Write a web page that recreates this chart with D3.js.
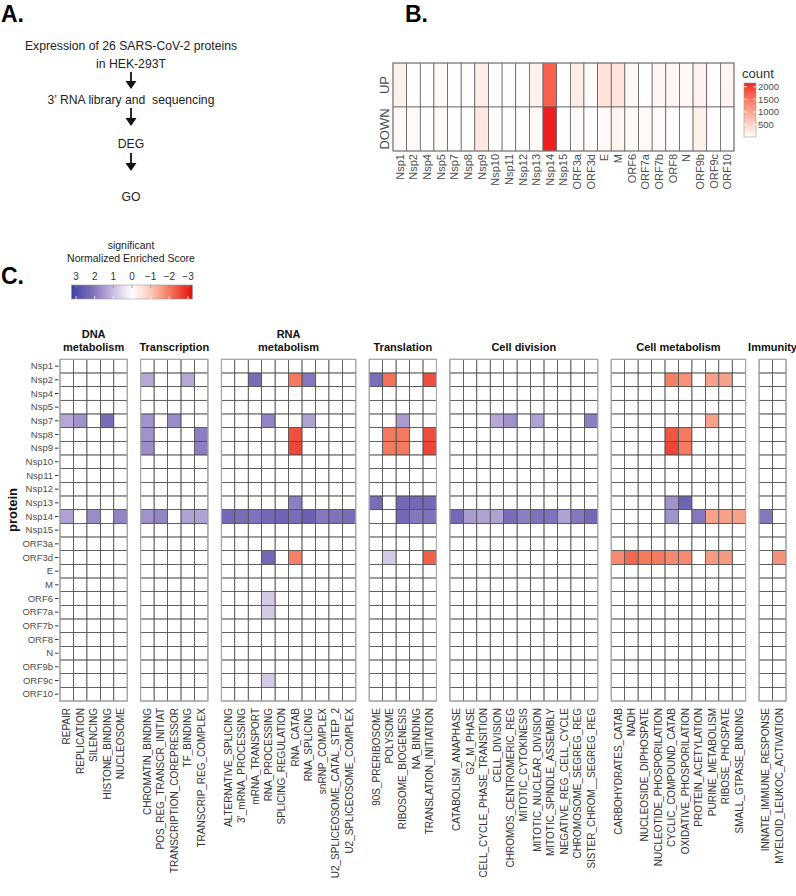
<!DOCTYPE html>
<html><head><meta charset="utf-8">
<script src="https://cdn.jsdelivr.net/npm/d3@7"></script>
<style>body{margin:0;background:#fff}svg{display:block}</style>
</head><body>
<svg id="c" width="796" height="896"></svg>
<script>
// ---------------- DATA ----------------
const flowLines = [["Expression of 26 SARS-CoV-2 proteins","in HEK-293T"],["3’ RNA library and  sequencing"],["DEG"],["GO"]];

const proteins = ["Nsp1","Nsp2","Nsp4","Nsp5","Nsp7","Nsp8","Nsp9","Nsp10","Nsp11","Nsp12","Nsp13","Nsp14","Nsp15","ORF3a","ORF3d","E","M","ORF6","ORF7a","ORF7b","ORF8","N","ORF9b","ORF9c","ORF10"];
const directions = ["UP","DOWN"];
const countUp   = [150,20,10,60,20,30,200,10,10,20,150,1700,10,220,50,330,300,70,20,110,100,80,150,20,120];
const countDown = [60,60,10,50,10,10,260,10,10,10,60,2150,10,60,20,60,130,50,60,70,10,10,170,10,10];
const countTicks = [500,1000,1500,2000];

const groupTitles = [["DNA","metabolism"],["Transcription"],["RNA","metabolism"],["Translation"],["Cell division"],["Cell metabolism"],["Immunity"]];
const termsDNA = ["REPAIR","REPLICATION","SILENCING","HISTONE_BINDING","NUCLEOSOME"];
const termsTranscription = ["CHROMATIN_BINDING","POS_REG_TRANSCR_INITIAT","TRANSCRIPTION_COREPRESSOR","TF_BINDING","TRANSCRIP_REG_COMPLEX"];
const termsRNA = ["ALTERNATIVE_SPLICING","3’_mRNA_PROCESSING","mRNA_TRANSPORT","RNA_PROCESSING","SPLICING_REGULATION","RNA_CATAB","RNA_SPLICING","snRNP_COMPLEX","U2_SPLICEOSOME_CATAL_STEP_2","U2_SPLICEOSOME_COMPLEX"];
const termsTranslation = ["90S_PRERIBOSOME","POLYSOME","RIBOSOME_BIOGENESIS","NA_BINDING","TRANSLATION_INITIATION"];
const termsDivision = ["CATABOLISM_ANAPHASE","G2_M_PHASE","CELL_CYCLE_PHASE_TRANSITION","CELL_DIVISION","CHROMOS_CENTROMERIC_REG","MITOTIC_CYTOKINESIS","MITOTIC_NUCLEAR_DIVISION","MITOTIC_SPINDLE_ASSEMBLY","NEGATIVE_REG_CELL_CYCLE","CHROMOSOME_SEGREG_REG","SISTER_CHROM__SEGREG_REG"];
const termsMetabolism = ["CARBOHYDRATES_CATAB","NADH","NUCLEOSIDE_DIPHOSPATE","NUCLEOTIDE_PHOSPORILATION","CYCLIC_COMPOUND_CATAB","OXIDATIVE_PHOSPORILATION","PROTEIN_ACETYLATION","PURINE_METABOLISM","RIBOSE_PHOSPATE","SMALL_GTPASE_BINDING"];
const termsImmunity = ["INNATE_IMMUNE_RESPONSE","MYELOID_LEUKOC_ACTIVATION"];
const groupTerms = [termsDNA,termsTranscription,termsRNA,termsTranslation,termsDivision,termsMetabolism,termsImmunity];

const nesTicks = [3,2,1,0,-1,-2,-3];

// significant normalized enriched scores, per protein: [term, NES]
const nesNsp2 = [["CHROMATIN_BINDING",1.3],["TF_BINDING",1.3],["mRNA_TRANSPORT",2.2],["RNA_CATAB",-2.0],["RNA_SPLICING",2.0],["90S_PRERIBOSOME",2.2],["POLYSOME",-2.1],["TRANSLATION_INITIATION",-2.5],["CYCLIC_COMPOUND_CATAB",-1.9],["OXIDATIVE_PHOSPORILATION",-1.7],["PURINE_METABOLISM",-1.5],["RIBOSE_PHOSPATE",-1.5]];
const nesNsp7 = [["REPAIR",1.3],["REPLICATION",1.6],["HISTONE_BINDING",2.2],["CHROMATIN_BINDING",1.6],["TRANSCRIPTION_COREPRESSOR",1.7],["RNA_PROCESSING",1.8],["RNA_SPLICING",1.4],["RIBOSOME_BIOGENESIS",1.5],["CELL_DIVISION",1.3],["CHROMOS_CENTROMERIC_REG",1.6],["MITOTIC_NUCLEAR_DIVISION",1.4],["SISTER_CHROM__SEGREG_REG",1.9],["PURINE_METABOLISM",-1.5]];
const nesNsp8 = [["CHROMATIN_BINDING",1.6],["TRANSCRIP_REG_COMPLEX",1.9],["RNA_CATAB",-2.5],["POLYSOME",-2.0],["RIBOSOME_BIOGENESIS",-2.0],["TRANSLATION_INITIATION",-2.5],["CYCLIC_COMPOUND_CATAB",-2.4],["OXIDATIVE_PHOSPORILATION",-2.0]];
const nesNsp9 = [["CHROMATIN_BINDING",1.7],["TRANSCRIP_REG_COMPLEX",1.9],["RNA_CATAB",-2.6],["POLYSOME",-2.0],["RIBOSOME_BIOGENESIS",-2.0],["TRANSLATION_INITIATION",-2.6],["CYCLIC_COMPOUND_CATAB",-2.6],["OXIDATIVE_PHOSPORILATION",-2.0]];
const nesNsp13 = [["RNA_CATAB",1.9],["90S_PRERIBOSOME",2.2],["RIBOSOME_BIOGENESIS",2.3],["NA_BINDING",2.3],["TRANSLATION_INITIATION",2.3],["CYCLIC_COMPOUND_CATAB",1.6],["OXIDATIVE_PHOSPORILATION",2.4]];
const nesNsp14 = [["REPAIR",1.4],["SILENCING",1.7],["NUCLEOSOME",1.8],["CHROMATIN_BINDING",1.6],["POS_REG_TRANSCR_INITIAT",1.8],["TF_BINDING",1.4],["TRANSCRIP_REG_COMPLEX",1.4],
  ["ALTERNATIVE_SPLICING",2.3],["3’_mRNA_PROCESSING",2.2],["mRNA_TRANSPORT",2.1],["RNA_PROCESSING",2.3],["SPLICING_REGULATION",2.4],["RNA_CATAB",2.2],["RNA_SPLICING",2.5],["snRNP_COMPLEX",2.0],["U2_SPLICEOSOME_CATAL_STEP_2",2.1],["U2_SPLICEOSOME_COMPLEX",2.2],
  ["RIBOSOME_BIOGENESIS",2.3],["NA_BINDING",2.0],["TRANSLATION_INITIATION",2.1],
  ["CATABOLISM_ANAPHASE",2.3],["G2_M_PHASE",1.5],["CELL_CYCLE_PHASE_TRANSITION",1.4],["CELL_DIVISION",1.4],["CHROMOS_CENTROMERIC_REG",2.2],["MITOTIC_CYTOKINESIS",1.9],["MITOTIC_NUCLEAR_DIVISION",2.1],["MITOTIC_SPINDLE_ASSEMBLY",2.1],["NEGATIVE_REG_CELL_CYCLE",1.4],["CHROMOSOME_SEGREG_REG",2.0],["SISTER_CHROM__SEGREG_REG",2.3],
  ["CYCLIC_COMPOUND_CATAB",1.6],["PROTEIN_ACETYLATION",2.0],["PURINE_METABOLISM",-1.5],["RIBOSE_PHOSPATE",-1.5],["SMALL_GTPASE_BINDING",-1.5],["INNATE_IMMUNE_RESPONSE",2.0]];
const nesORF3d = [["RNA_PROCESSING",2.3],["RNA_CATAB",-1.9],["POLYSOME",0.8],["TRANSLATION_INITIATION",-2.3],["CARBOHYDRATES_CATAB",-1.8],["NADH",-2.2],["NUCLEOSIDE_DIPHOSPATE",-2.0],["NUCLEOTIDE_PHOSPORILATION",-2.0],["CYCLIC_COMPOUND_CATAB",-1.8],["OXIDATIVE_PHOSPORILATION",-1.8],["PURINE_METABOLISM",-1.6],["RIBOSE_PHOSPATE",-1.6],["MYELOID_LEUKOC_ACTIVATION",-1.7]];
const nesORF6 = [["RNA_PROCESSING",0.8]];
const nesORF7a = [["RNA_PROCESSING",0.8]];
const nesORF9c = [["RNA_PROCESSING",0.8]];
const nesByProtein = [["Nsp2",nesNsp2],["Nsp7",nesNsp7],["Nsp8",nesNsp8],["Nsp9",nesNsp9],["Nsp13",nesNsp13],["Nsp14",nesNsp14],["ORF3d",nesORF3d],["ORF6",nesORF6],["ORF7a",nesORF7a],["ORF9c",nesORF9c]];

// ---------------- DRAW ----------------
const FONT = "Liberation Sans, Arial, Helvetica, sans-serif";
const svg = d3.select("#c").style("font-family", FONT);

// panel letters
svg.append("text").attr("x",1).attr("y",22).attr("font-size",23).attr("font-weight","bold").text("A.");
svg.append("text").attr("x",405).attr("y",22).attr("font-size",23).attr("font-weight","bold").text("B.");
svg.append("text").attr("x",1).attr("y",284).attr("font-size",23).attr("font-weight","bold").text("C.");

// ---- Panel A ----
const ax = 131;
const A = svg.append("g").attr("fill","#222").attr("font-size",12.2);
const blockY = [[50,68],[104],[148],[201]];
flowLines.forEach((lines,i)=>{
  lines.forEach((t,j)=>{
    A.append("text").attr("x",ax).attr("y",blockY[i][j]).attr("text-anchor","middle").style("white-space","pre").text(t);
  });
});
const arrows = [[72,89],[108,126],[153,171]];
arrows.forEach(([y0,y1])=>{
  A.append("line").attr("x1",ax).attr("x2",ax).attr("y1",y0).attr("y2",y1-6).attr("stroke","#111").attr("stroke-width",1.8);
  A.append("path").attr("d",`M${ax-5.5},${y1-8}L${ax+5.5},${y1-8}L${ax},${y1}Z`).attr("fill","#111");
});

// ---- Panel B ----
const bx = d3.scaleBand().domain(proteins).range([393,734]);
const by = d3.scaleBand().domain(directions).range([63,151]);
const countMax = 2150;
const countColor = d3.scaleLinear().domain([0,countMax]).range(["#ffffff","#ee1e22"]).interpolate(d3.interpolateLab);
const countRows = [countUp,countDown];
const B = svg.append("g");
directions.forEach((d,ri)=>{
  B.selectAll(null).data(proteins).enter().append("rect")
    .attr("x",p=>bx(p)).attr("y",by(d)).attr("width",bx.bandwidth()).attr("height",by.bandwidth())
    .attr("fill",(p,i)=>countColor(countRows[ri][i]))
    .attr("stroke","#555").attr("stroke-width",0.7);
});
B.append("rect").attr("x",393).attr("y",63).attr("width",734-393).attr("height",151-63).attr("fill","none").attr("stroke","#888").attr("stroke-width",1);
directions.forEach(d=>{
  const cyy = by(d)+by.bandwidth()/2;
  B.append("text").attr("transform",`translate(389,${cyy}) rotate(-90)`).attr("text-anchor","middle")
    .attr("font-size",13).attr("fill","#4d4d4d").text(d);
});
proteins.forEach(p=>{
  const cxx = bx(p)+bx.bandwidth()/2;
  B.append("text").attr("transform",`translate(${cxx},154) rotate(-90)`).attr("text-anchor","end").attr("dy","0.36em")
    .attr("font-size",11).attr("fill","#4d4d4d").text(p);
});
// count legend
const lgx = 744;
B.append("text").attr("x",lgx-2).attr("y",78).attr("font-size",13).attr("fill","#333").text("count");
const ly = d3.scaleLinear().domain([0,countMax]).range([137,83]);
const defs = svg.append("defs");
const gB = defs.append("linearGradient").attr("id","gcount").attr("x1",0).attr("x2",0).attr("y1",1).attr("y2",0);
d3.range(0,1.0001,0.1).forEach(t=>gB.append("stop").attr("offset",t).attr("stop-color",countColor(t*countMax)));
B.append("rect").attr("x",lgx).attr("y",83).attr("width",12).attr("height",54).attr("fill","url(#gcount)").attr("stroke","#999").attr("stroke-width",0.6);
countTicks.forEach(v=>{
  B.append("line").attr("x1",lgx).attr("x2",lgx+3).attr("y1",ly(v)).attr("y2",ly(v)).attr("stroke","#fff").attr("stroke-width",0.8);
  B.append("line").attr("x1",lgx+9).attr("x2",lgx+12).attr("y1",ly(v)).attr("y2",ly(v)).attr("stroke","#fff").attr("stroke-width",0.8);
  B.append("text").attr("x",lgx+14).attr("y",ly(v)).attr("dy","0.35em").attr("font-size",9.5).attr("fill","#4d4d4d").text(v);
});

// ---- Panel C ----
const slots = [];
groupTerms.forEach((g,i)=>{ g.forEach(t=>slots.push(t)); if(i<groupTerms.length-1) slots.push("gap"+i); });
const cx = d3.scaleBand().domain(slots).range([60,786]);
const cy = d3.scaleBand().domain(proteins).range([359.3,701]);
const nesColor = d3.scaleLinear().domain([3,2,1,0,-1,-2,-3])
  .range(["#4b4aa6","#8676bd","#cbbde0","#ffffff","#fcc9b9","#f47a5f","#e8231d"]);
const C = svg.append("g");

// colored cells
const cells = [];
nesByProtein.forEach(([p,arr])=>arr.forEach(([t,v])=>cells.push({p,t,v})));
C.selectAll("rect.cell").data(cells).enter().append("rect").attr("class","cell")
  .attr("x",d=>cx(d.t)).attr("y",d=>cy(d.p)).attr("width",cx.bandwidth()).attr("height",cy.bandwidth())
  .attr("fill",d=>nesColor(d.v));

// grid
groupTerms.forEach((g,gi)=>{
  const x0 = cx(g[0]), x1 = cx(g[g.length-1])+cx.bandwidth();
  const G = C.append("g");
  g.forEach(t=>proteins.forEach(p=>{
    G.append("rect").attr("x",cx(t)).attr("y",cy(p)).attr("width",cx.bandwidth()).attr("height",cy.bandwidth())
      .attr("fill","none").attr("stroke","#4d4d4d").attr("stroke-width",0.65);
  }));
  G.append("rect").attr("x",x0).attr("y",359.3).attr("width",x1-x0).attr("height",701-359.3)
    .attr("fill","none").attr("stroke","#aaa").attr("stroke-width",1.2);
  // title
  const mid = (x0+x1)/2;
  const lines = groupTitles[gi];
  lines.forEach((l,li)=>{
    C.append("text").attr("x",mid).attr("y",351-(lines.length-1-li)*13).attr("text-anchor","middle")
      .attr("font-size",11).attr("font-weight","bold").attr("fill","#111").text(l);
  });
  // column labels
  g.forEach(t=>{
    C.append("text").attr("transform",`translate(${cx(t)+cx.bandwidth()/2},708) rotate(-90)`)
      .attr("text-anchor","end").attr("dy","0.36em").attr("font-size",10).attr("fill","#333").text(t);
  });
});
// row labels
proteins.forEach(p=>{
  const yy = cy(p)+cy.bandwidth()/2;
  C.append("text").attr("x",53).attr("y",yy).attr("dy","0.35em").attr("text-anchor","end").attr("font-size",9.5).attr("fill","#4d4d4d").text(p);
  C.append("line").attr("x1",55).attr("x2",58.5).attr("y1",yy).attr("y2",yy).attr("stroke","#333").attr("stroke-width",1);
});
C.append("text").attr("transform","translate(17,510) rotate(-90)").attr("text-anchor","middle")
  .attr("font-size",13).attr("font-weight","bold").attr("fill","#111").text("protein");

// NES legend
const L = svg.append("g");
L.append("text").attr("x",131).attr("y",249).attr("text-anchor","middle").attr("font-size",10.5).attr("fill","#222").text("significant");
L.append("text").attr("x",131).attr("y",262).attr("text-anchor","middle").attr("font-size",10.5).attr("fill","#222").style("white-space","pre").text("Normalized Enriched Score");
const lx = d3.scaleLinear().domain([3,-3]).range([76,188]);
const gC = defs.append("linearGradient").attr("id","gnes").attr("x1",0).attr("x2",1).attr("y1",0).attr("y2",0);
const lxDom = [lx.invert(71.5), lx.invert(192.5)];
d3.range(0,1.0001,0.05).forEach(t=>gC.append("stop").attr("offset",t).attr("stop-color",nesColor(lxDom[0]+(lxDom[1]-lxDom[0])*t)));
L.append("rect").attr("x",71.5).attr("y",285).attr("width",121).attr("height",14).attr("fill","url(#gnes)").attr("stroke","#999").attr("stroke-width",0.6);
nesTicks.forEach(v=>{
  L.append("line").attr("x1",lx(v)).attr("x2",lx(v)).attr("y1",285).attr("y2",288).attr("stroke","#888").attr("stroke-width",0.8);
  L.append("line").attr("x1",lx(v)).attr("x2",lx(v)).attr("y1",296).attr("y2",299).attr("stroke","#fff").attr("stroke-width",0.8);
  L.append("text").attr("x",lx(v)).attr("y",280).attr("text-anchor","middle").attr("font-size",10).attr("fill","#333")
    .text(v<0 ? "\u2212"+Math.abs(v) : v);
});
</script>
</body></html>
